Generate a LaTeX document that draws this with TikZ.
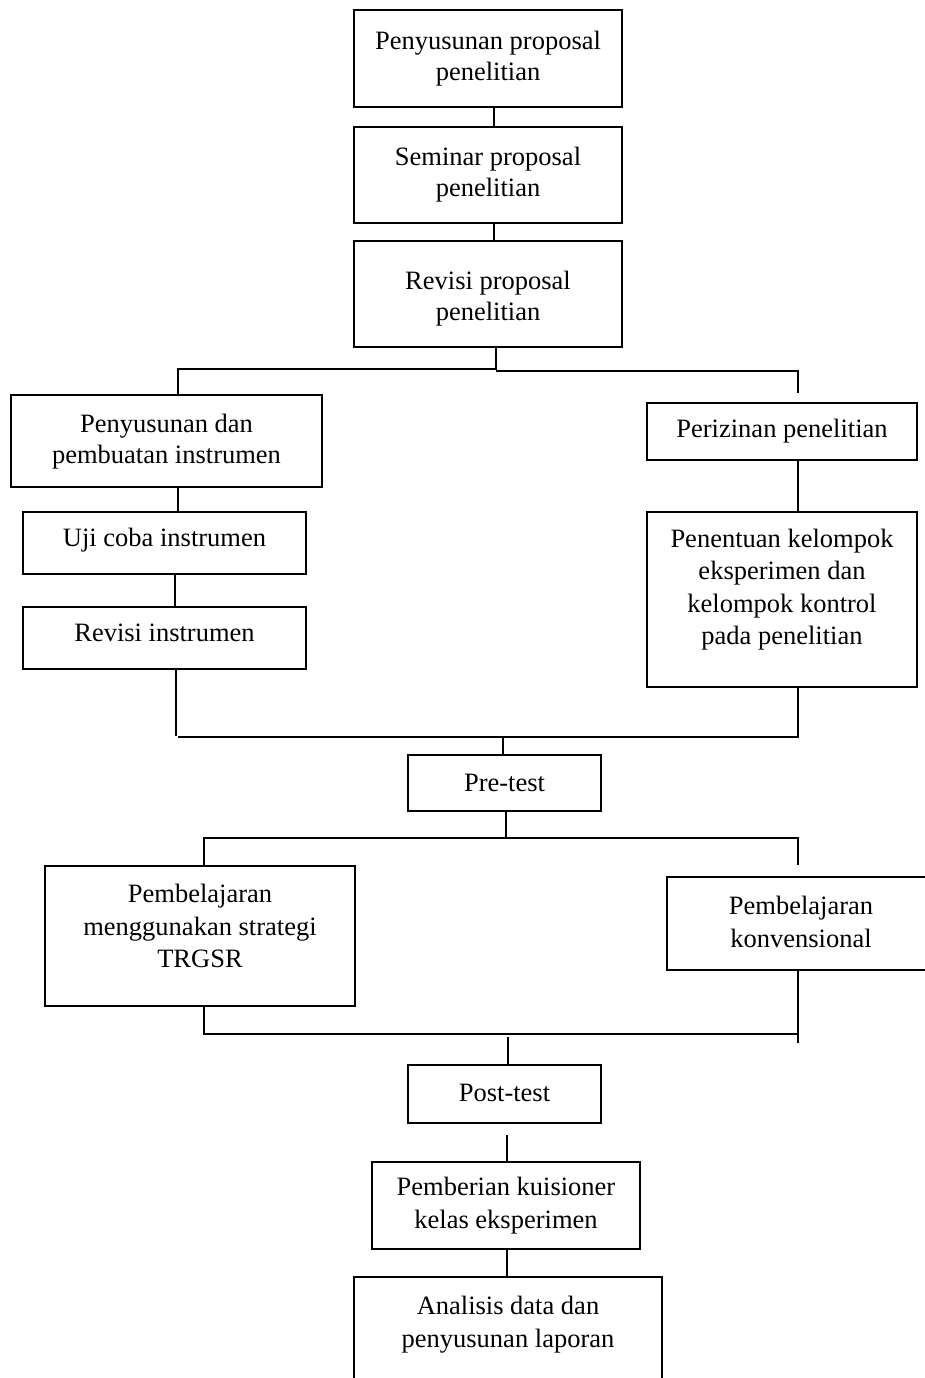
\documentclass[tikz,border=0pt]{standalone}
\usepackage{fontspec}
\setmainfont{Liberation Serif}
\begin{document}
\begin{tikzpicture}[x=1pt,y=-1pt,
  box/.style={draw=black, line width=1.4pt, inner sep=0pt},
  txt/.style={align=center, inner sep=0pt, font=\fontsize{26.5}{32.5}\selectfont},
  tight/.style={font=\fontsize{26.5}{31}\selectfont},
  conn/.style={draw=black, line width=1.3pt}]
\useasboundingbox (0,0) rectangle (925,1378);

% boxes
\node[box, minimum width=268pt, minimum height=97pt]  (b1)  at (488,58.5)  {};
\node[box, minimum width=268pt, minimum height=96pt]  (b2)  at (488,175)   {};
\node[box, minimum width=268pt, minimum height=106pt] (b3)  at (488,294)   {};
\node[box, minimum width=311pt, minimum height=92pt]  (b4)  at (166.5,441) {};
\node[box, minimum width=270pt, minimum height=57pt]  (b5)  at (782,431.5) {};
\node[box, minimum width=283pt, minimum height=62pt]  (b6)  at (164.5,543) {};
\node[box, minimum width=283pt, minimum height=62pt]  (b7)  at (164.5,638) {};
\node[box, minimum width=270pt, minimum height=175pt] (b8)  at (782,599.5) {};
\node[box, minimum width=193pt, minimum height=56pt]  (b9)  at (504.5,783) {};
\node[box, minimum width=310pt, minimum height=140pt] (b10) at (200,936)   {};
\node[box, minimum width=268pt, minimum height=93pt]  (b11) at (801,923.5) {};
\node[box, minimum width=193pt, minimum height=58pt]  (b12) at (504.5,1094) {};
\node[box, minimum width=268pt, minimum height=87pt]  (b13) at (506,1205.5) {};
\node[box, minimum width=308pt, minimum height=123pt] (b14) at (508,1338.5) {};

% texts
\node[txt,tight] (t1)  at (b1.center) {Penyusunan proposal\\penelitian};
\node[txt,tight] (t2)  at (b2.center) {Seminar proposal\\penelitian};
\node[txt,tight] (t3)  at ([yshift=-5pt]b3.center) {Revisi proposal\\penelitian};
\node[txt,tight] (t4)  at ([yshift=-1pt]b4.center) {Penyusunan dan\\pembuatan instrumen};
\node[txt] (t5)  at (b5.center) {Perizinan penelitian};
\node[txt] (t6)  at ([yshift=3pt]b6.center) {Uji coba instrumen};
\node[txt] (t7)  at ([yshift=5pt]b7.center) {Revisi instrumen};
\node[txt] (t8)  at ([yshift=10pt]b8.center) {Penentuan kelompok\\eksperimen dan\\kelompok kontrol\\pada penelitian};
\node[txt] (t9)  at (b9.center) {Pre-test};
\node[txt] (t10) at ([yshift=10pt]b10.center) {Pembelajaran\\menggunakan strategi\\TRGSR};
\node[txt] (t11) at ([yshift=1.5pt]b11.center) {Pembelajaran\\konvensional};
\node[txt] (t12) at ([yshift=1pt]b12.center) {Post-test};
\node[txt] (t13) at (b13.center) {Pemberian kuisioner\\kelas eksperimen};
\node[txt] (t14) at ([yshift=14pt]b14.center) {Analisis data dan\\penyusunan laporan};

% junction coordinates
\coordinate (x1) at (494,0);
\coordinate (j1) at (496,370);
\coordinate (L1) at (178,369);
\coordinate (R1) at (798,371);
\coordinate (R1e) at (798,393);
\coordinate (L2) at (175,0);
\coordinate (L3) at (176,736);
\coordinate (H2l) at (178,737);
\coordinate (H2r) at (798,737);
\coordinate (j2) at (503,737);
\coordinate (j3) at (506,838);
\coordinate (H3l) at (204,838);
\coordinate (H3r) at (798,838);
\coordinate (H3re) at (798,865);
\coordinate (H4l) at (204,1034);
\coordinate (H4r) at (798,1034);
\coordinate (H4re) at (798,1043);
\coordinate (j4) at (508,1037);
\coordinate (P1) at (507,1135);

% connectors
\draw[conn] (b1.south -| x1) -- (b2.north -| x1);
\draw[conn] (b2.south -| x1) -- (b3.north -| x1);
\draw[conn] (b3.south -| j1) -- (j1);
\draw[conn] (b4.north -| L1) -- (L1) -- (j1 |- L1);
\draw[conn] (j1 |- R1) -- (R1) -- (R1e);
\draw[conn] (b4.south -| L1) -- (b6.north -| L1);
\draw[conn] (b6.south -| L2) -- (b7.north -| L2);
\draw[conn] (b5.south -| R1) -- (b8.north -| R1);
\draw[conn] (b7.south -| L3) -- (L3);
\draw[conn] (H2l) -- (H2r) -- (b8.south -| H2r);
\draw[conn] (j2) -- (b9.north -| j2);
\draw[conn] (b9.south -| j3) -- (j3);
\draw[conn] (b10.north -| H3l) -- (H3l) -- (H3r) -- (H3re);
\draw[conn] (b10.south -| H4l) -- (H4l) -- (H4r);
\draw[conn] (b11.south -| H4r) -- (H4re);
\draw[conn] (j4) -- (b12.north -| j4);
\draw[conn] (P1) -- (b13.north -| P1);
\draw[conn] (b13.south -| P1) -- (b14.north -| P1);
\end{tikzpicture}
\end{document}
